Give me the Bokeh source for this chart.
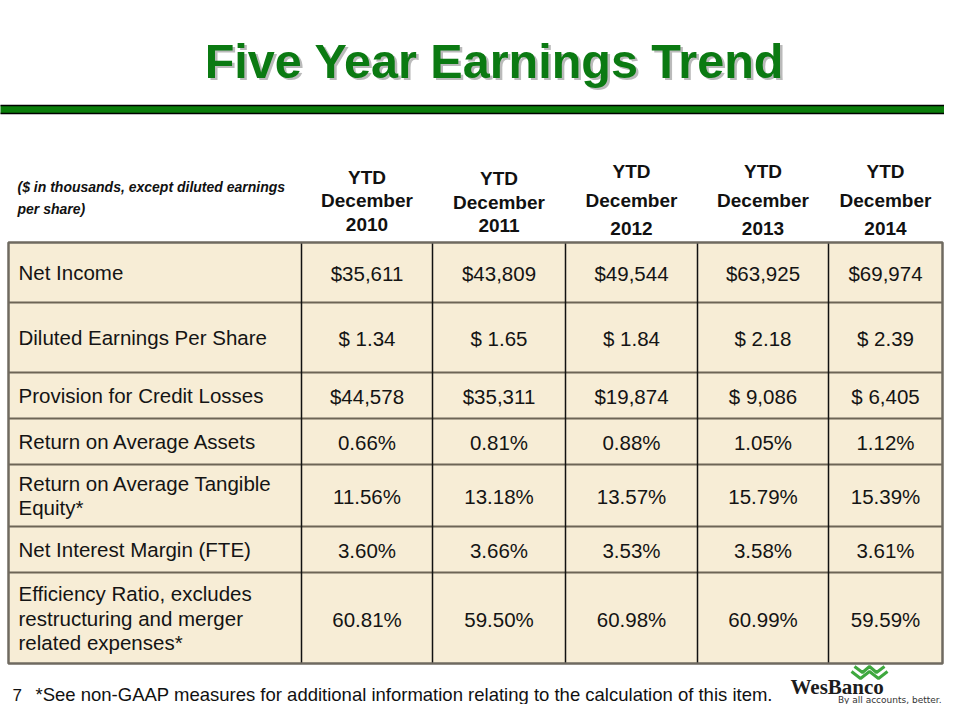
from bokeh.plotting import figure
from bokeh.models import Range1d, ColumnDataSource
from bokeh.core.properties import value
from bokeh.embed import file_html
from bokeh.resources import INLINE

# ---------------- data ----------------
title = "Five Year Earnings Trend"
note_lines = ["($ in thousands, except diluted earnings", "per share)"]
years = ["2010", "2011", "2012", "2013", "2014"]
row_labels = [
    ["Net Income"],
    ["Diluted Earnings Per Share"],
    ["Provision for Credit Losses"],
    ["Return on Average Assets"],
    ["Return on Average Tangible", "Equity*"],
    ["Net Interest Margin (FTE)"],
    ["Efficiency Ratio, excludes", "restructuring and merger", "related expenses*"],
]
net_income = ["$35,611", "$43,809", "$49,544", "$63,925", "$69,974"]
diluted_eps = ["$ 1.34", "$ 1.65", "$ 1.84", "$ 2.18", "$ 2.39"]
provision = ["$44,578", "$35,311", "$19,874", "$ 9,086", "$ 6,405"]
roaa = ["0.66%", "0.81%", "0.88%", "1.05%", "1.12%"]
roate = ["11.56%", "13.18%", "13.57%", "15.79%", "15.39%"]
nim = ["3.60%", "3.66%", "3.53%", "3.58%", "3.61%"]
efficiency = ["60.81%", "59.50%", "60.98%", "60.99%", "59.59%"]
rows = [net_income, diluted_eps, provision, roaa, roate, nim, efficiency]
footnote = "*See non-GAAP measures for additional information relating to the calculation of this item."
page_no = "7"
logo_name = "WesBanco"
logo_tagline = "By all accounts, better."

# ---------------- layout ----------------
col_edges = [8, 301, 432, 565, 697, 828, 942]
row_edges = [242, 302, 372, 418, 464, 526, 572, 663]
hdr_center = [200, 201.5, 199.5, 199.5, 199.5]
hdr_gap = [23.5, 23.5, 28.5, 28.5, 28.5]
line_gap = 24.5

FONT = value("Liberation Sans")

p = figure(width=944, height=704, output_backend="svg", toolbar_location=None,
           x_range=Range1d(0, 944), y_range=Range1d(704, 0),
           min_border=0)
p.axis.visible = False
p.grid.visible = False
p.outline_line_color = None
p.background_fill_color = "white"
p.border_fill_color = "white"

# title with shadow
cx = 494
p.text(x=[cx + 2.5], y=[62.5], text=[title], text_align="center", text_baseline="middle",
       text_font=FONT, text_font_style="bold",
       text_font_size="48.5px", text_color="#8c8c8c", text_alpha=0.6)
p.text(x=[cx], y=[60], text=[title], text_align="center", text_baseline="middle",
       text_font=FONT, text_font_style="bold",
       text_font_size="48.5px", text_color="#0b7a12")

# green bar
p.quad(left=[-10], right=[970], top=[105], bottom=[113], fill_color="#0a7d0a",
       line_color="black", line_width=1.5)

# table background
p.quad(left=[col_edges[0]], right=[col_edges[-1]], top=[row_edges[0]], bottom=[row_edges[-1]],
       fill_color="#f7edd6", line_color=None)

# note
p.text(x=[17, 17], y=[186, 208], text=note_lines, text_align="left", text_baseline="middle",
       text_font=FONT, text_font_style="bold italic", text_font_size="14px", text_color="#111111")

# headers
hx, hy, ht = [], [], []
for i, yr in enumerate(years):
    c = (col_edges[i + 1] + col_edges[i + 2]) / 2
    for k, t in enumerate(["YTD", "December", yr]):
        hx.append(c)
        hy.append(hdr_center[i] + (k - 1) * hdr_gap[i])
        ht.append(t)
p.text(x="x", y="y", text="text", source=ColumnDataSource(dict(x=hx, y=hy, text=ht)),
       text_align="center", text_baseline="middle", text_font=FONT, text_font_style="bold",
       text_font_size="19px", text_color="#111111")

# row labels and values
lx, ly, lt = [], [], []
vx, vy, vt = [], [], []
for r, (lab, vals) in enumerate(zip(row_labels, rows)):
    rc = (row_edges[r] + row_edges[r + 1]) / 2
    n = len(lab)
    for k, t in enumerate(lab):
        lx.append(18)
        ly.append(rc + (k - (n - 1) / 2) * line_gap)
        lt.append(t)
    for i, v in enumerate(vals):
        vx.append((col_edges[i + 1] + col_edges[i + 2]) / 2)
        vy.append(rc + 1)
        vt.append(v)
p.text(x="x", y="y", text="text", source=ColumnDataSource(dict(x=lx, y=ly, text=lt)),
       text_align="left", text_baseline="middle", text_font=FONT,
       text_font_size="20.5px", text_color="#141414")
p.text(x="x", y="y", text="text", source=ColumnDataSource(dict(x=vx, y=vy, text=vt)),
       text_align="center", text_baseline="middle", text_font=FONT,
       text_font_size="20.5px", text_color="#141414")

# horizontal lines
p.multi_line(xs=[[col_edges[0], col_edges[-1]] for _ in row_edges[1:-1]],
             ys=[[y, y] for y in row_edges[1:-1]], line_color="#6d6556", line_width=2.2)
# vertical lines
p.multi_line(xs=[[x, x] for x in col_edges[1:-1]],
             ys=[[row_edges[0], row_edges[-1]] for _ in col_edges[1:-1]],
             line_color="#111111", line_width=1.5)
# outer border
p.quad(left=[col_edges[0]], right=[col_edges[-1]], top=[row_edges[0]], bottom=[row_edges[-1]],
       fill_color=None, line_color="#6f6a60", line_width=2.5)

# footer
p.text(x=[12], y=[694], text=[page_no], text_align="left", text_baseline="middle",
       text_font=FONT, text_font_size="17px", text_color="#111111")
p.text(x=[35], y=[694], text=[footnote], text_align="left", text_baseline="middle",
       text_font=FONT, text_font_size="18.5px", text_color="#111111")

# logo
p.multi_line(xs=[[851, 860, 869, 878, 887], [854, 862, 869, 876, 884]],
             ys=[[671, 678, 671, 678, 671], [666, 672, 666, 672, 666]],
             line_color="#3ea83e", line_width=3)
p.text(x=[790], y=[686], text=[logo_name], text_align="left", text_baseline="middle",
       text_font=value("Liberation Serif"), text_font_style="bold",
       text_font_size="21px", text_color="#1c1c1c")
p.text(x=[941], y=[699], text=[logo_tagline], text_align="right",
       text_baseline="middle", text_font=value("DejaVu Sans"),
       text_font_size="9px", text_color="#333333")

open("out.html", "w").write(file_html(p, INLINE))
